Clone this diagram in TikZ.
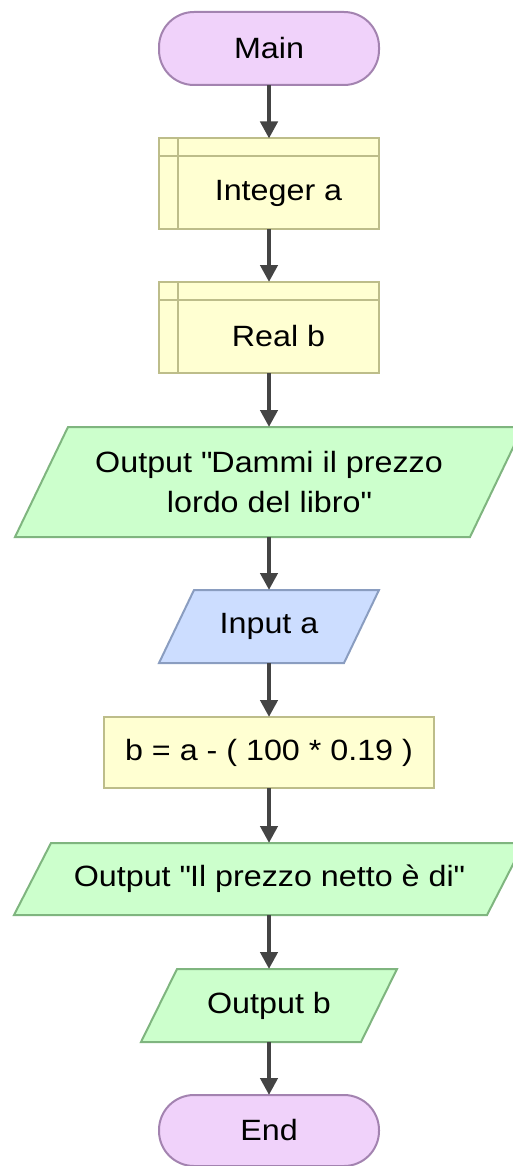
\documentclass[tikz,border=0pt]{standalone}
\usepackage{fontspec}
\setmainfont{Liberation Sans}[FakeStretch=1.1]
\usetikzlibrary{arrows.meta,backgrounds,calc}

\definecolor{termfill}{HTML}{F0D2FA}
\definecolor{termline}{HTML}{A383B0}
\definecolor{procfill}{HTML}{FFFFD2}
\definecolor{procline}{HTML}{BDBD8A}
\definecolor{outfill}{HTML}{CCFFCC}
\definecolor{outline}{HTML}{7FB57F}
\definecolor{infill}{HTML}{CCDDFF}
\definecolor{inline}{HTML}{8A9DC0}
\definecolor{flowcol}{HTML}{444444}

\newcommand\pxu{0.75pt}
\newcommand\dq{\textquotedbl}

\tikzset{
  basebox/.style={outer sep=0pt, inner sep=0pt, line width=1.5pt,
    font=\fontsize{22}{29.5}\selectfont, align=center},
  termbox/.style={basebox, draw=termline, fill=termfill,
    minimum width=220*\pxu, minimum height=#1*\pxu, rounded corners=35*\pxu},
  procbox/.style={basebox, draw=procline, fill=procfill,
    minimum width=#1*\pxu, minimum height=71*\pxu},
  declbox/.style={basebox, draw=procline, fill=procfill,
    minimum width=220*\pxu, minimum height=91*\pxu},
  iospan/.style n args={2}{basebox, minimum width=#1*\pxu, minimum height=#2*\pxu},
  outshape/.style={draw=outline, fill=outfill, line width=1.5pt, line join=miter},
  inshape/.style={draw=inline, fill=infill, line width=1.5pt, line join=miter},
  declline/.style={draw=procline, line width=1.5pt},
  flow/.style={draw=flowcol, line width=3.2pt,
    -{Triangle[width=12.75pt,length=12.75pt]}},
  plain/.style={basebox}
}

% parallelogram behind a node: #1 style, #2 node, #3 slant in px
\newcommand\parallelbox[3]{%
  \begin{scope}[on background layer]
    \path[#1] (#2.south west) -- ($(#2.north west)+(#3,0)$) -- (#2.north east)
      -- ($(#2.south east)+(-#3,0)$) -- cycle;
  \end{scope}}

% declaration box with its two inner rules
\newcommand\declrules[1]{%
  \draw[declline] ($(#1.north west)+(19,0)$) -- ($(#1.south west)+(19,0)$);
  \draw[declline] ($(#1.north west)+(0,18)$) -- ($(#1.north east)+(0,18)$);}

\begin{document}
\begin{tikzpicture}[x=0.75pt,y=-0.75pt]
  \useasboundingbox (0,0) rectangle (513,1166);
  \clip (0,0) rectangle (513,1166);

  % terminals and boxes
  \node[termbox=73] (main) at (269,48.5) {Main};

  \node[declbox] (intg) at (269,184) {};
  \declrules{intg}
  \node[plain] (intgtext) at (278.5,193) {Integer a};

  \node[declbox] (real) at (269,327.5) {};
  \declrules{real}
  \node[plain] (realtext) at (278.5,336.5) {Real b};

  \node[iospan={508}{110}] (dammi) at (269,482)
    {Output \dq Dammi il prezzo\\lordo del libro\dq};
  \parallelbox{outshape}{dammi}{53}

  \node[iospan={220}{73}] (inpa) at (269,626.5) {Input a};
  \parallelbox{inshape}{inpa}{35}

  \node[procbox=330] (calc) at (269,752.5) {b = a - ( 100 * 0.19 )};

  \node[iospan={510}{72}] (netto) at (269,879) {Output \dq Il prezzo netto è di\dq};
  \parallelbox{outshape}{netto}{37}

  \node[iospan={256}{73}] (outb) at (269,1005.5) {Output b};
  \parallelbox{outshape}{outb}{36}

  \node[termbox=71] (fine) at (269,1130.5) {End};

  % connectors
  \draw[flow] (main.south) -- (intg.north);
  \draw[flow] (intg.south) -- (real.north);
  \draw[flow] (real.south) -- (dammi.north);
  \draw[flow] (dammi.south) -- (inpa.north);
  \draw[flow] (inpa.south) -- (calc.north);
  \draw[flow] (calc.south) -- (netto.north);
  \draw[flow] (netto.south) -- (outb.north);
  \draw[flow] (outb.south) -- (fine.north);
\end{tikzpicture}
\end{document}
